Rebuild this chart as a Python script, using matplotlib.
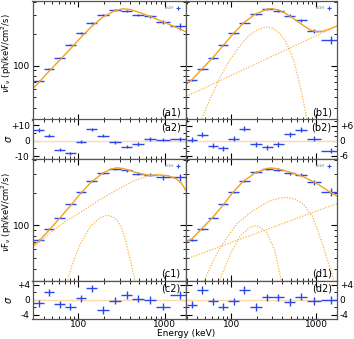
import numpy as np
import matplotlib.pyplot as plt
from matplotlib.ticker import FixedLocator, FixedFormatter, MultipleLocator, NullFormatter

plt.rcParams['font.family'] = 'DejaVu Sans'
plt.rcParams['axes.unicode_minus'] = False

BLUE = '#2848ee'
ORANGE = '#f6a21c'

# energy bins (keV)
bin_edges = [30, 40, 53, 70, 93, 123, 165, 228, 310, 420, 570, 790, 1150, 1950]
flux_err_frac = [0.015, 0.015, 0.015, 0.015, 0.015, 0.015, 0.02, 0.02, 0.025, 0.03, 0.035, 0.05, 0.08]

# nuFnu data points
flux_a1 = [72, 93, 119, 157, 202, 252, 300, 334, 326, 300, 291, 257, 235]
flux_b1 = [73, 93, 118, 156, 202, 254, 304, 339, 330, 296, 266, 211, 174]
flux_c1 = [73.5, 93, 118, 156, 202, 258, 306, 333, 322, 300, 293, 277, 278]
flux_d1 = [73.5, 93, 118, 156, 202, 258, 309, 330, 327, 304, 293, 250, 205]

# residuals (sigma)
resid_a2 = [6.9, 3.2, -5.8, -8.1, -0.6, 7.4, 3.2, -1.0, -3.9, -2.1, 1.1, 0.5, 1.1]
resid_b2 = [0.3, 2.3, -2.0, -3.1, 0.7, 4.7, -1.5, -2.7, -1.5, 2.5, 4.3, 0.7, -4.1]
resid_c2 = [-0.9, 2.0, -1.2, -1.8, 0.4, 3.1, -2.7, -0.2, 1.3, 0.3, 0.0, -1.8, 1.3]
resid_d2 = [-1.3, 2.7, -0.4, -1.8, -0.4, 2.7, -1.9, 0.7, 0.7, -0.6, 0.9, -0.3, 0.0]

# model curves
tot_a1_e = [29.5, 35, 45, 60, 80, 105, 140, 190, 260, 330, 400, 500, 700, 1000, 1400, 1760]
tot_a1 = [60, 69.5, 87, 111, 142, 181, 230, 284, 327, 343, 337, 318, 287, 254, 226, 208]

tot_b1_e = [29.5, 35, 45, 60, 80, 105, 140, 190, 260, 300, 360, 450, 560, 700, 850, 1000, 1200, 1450, 1760]
tot_b1 = [66, 74, 92, 117, 153, 198, 252, 303, 338, 344, 334, 306, 272, 240, 217, 208, 210, 221, 236]
pl_b1_e = [29.5, 1760]
pl_b1 = [51, 236]
cpl_b1_e = [44, 55, 75, 95, 117, 150, 183, 220, 262, 310, 374, 430, 490, 550, 611, 670, 730, 790]
cpl_b1 = [30, 46, 79, 110, 141, 180, 206, 224, 231, 225, 201, 172, 140, 108, 79, 57, 41, 30]

tot_c1_e = [29.5, 35, 45, 60, 80, 105, 140, 190, 240, 280, 330, 400, 500, 650, 850, 1100, 1350, 1550, 1760]
tot_c1 = [65, 71.5, 89, 115, 150, 195, 250, 302, 332, 340, 335, 320, 303, 290, 292, 287, 270, 247, 210]
broad_c1_e = [29.5, 40, 50, 74, 115, 180, 281, 439, 650, 850, 1100, 1350, 1550, 1760]
broad_c1 = [62, 76, 89, 111, 138, 174, 213, 258, 287, 292, 287, 270, 247, 210]
narrow_c1_e = [60, 74, 84.5, 105, 138, 180, 215, 250, 281, 320, 352, 390, 420, 457, 500]
narrow_c1 = [15, 30, 43, 67, 98, 118, 124, 120, 111, 93, 72, 52, 40, 29, 18]

tot_d1_e = [29.5, 35, 45, 60, 80, 103, 138, 192, 262, 300, 357, 490, 700, 1000, 1430, 1760]
tot_d1 = [70, 76, 93, 117, 153, 198, 254, 305, 335, 339, 332, 310, 282, 246, 205, 186]
pl_d1_e = [29.5, 1760]
pl_d1 = [48.8, 159]
broad_d1_e = [48, 60, 75, 117, 183, 286, 380, 448, 560, 700, 912, 1190, 1490, 1630]
broad_d1 = [30.6, 45, 63, 104, 138, 169, 179, 181, 175, 159, 120, 67, 38, 30]
narrow_d1_e = [60, 75, 98, 128, 168, 200, 262, 327, 374, 402]
narrow_d1 = [18, 32.5, 54.5, 80, 96, 100, 86.6, 58.5, 36, 27]

edges = np.array(bin_edges, dtype=float)
e_lo, e_hi = edges[:-1], edges[1:]
e_mid = np.sqrt(e_lo * e_hi)
xerr = [e_mid - e_lo, e_hi - e_mid]

W, H = 354, 339
fig = plt.figure(figsize=(W / 100, H / 100), dpi=100)


def add_ax(x0, x1, y0, y1):
    return fig.add_axes([x0 / W, (H - y1) / H, (x1 - x0) / W, (y1 - y0) / H])


cols = [(32.5, 186), (186, 337)]
rows = [(0.5, 119.5), (119.5, 159), (159, 280.5), (280.5, 318.5)]
LABEL_X = (13.5 - 32.5) / (186 - 32.5)


def style(ax):
    ax.set_xscale('log')
    ax.set_xlim(29.5, 1760)
    ax.tick_params(which='both', direction='in', top=True, right=True, labelsize=6.5, pad=2)
    ax.tick_params(which='major', length=4, width=0.8)
    ax.tick_params(which='minor', length=2, width=0.6)
    for s in ax.spines.values():
        s.set_color('#555555')
        s.set_linewidth(0.9)


def spec_panel(ax, flux, tot_e, tot_v, comps, name, left):
    style(ax)
    ax.set_yscale('log')
    ax.set_ylim(31, 410)
    flux = np.array(flux)
    ax.errorbar(e_mid, flux, xerr=xerr, yerr=flux * np.array(flux_err_frac),
                fmt='none', ecolor=BLUE, elinewidth=1.0)
    for ce, cv in comps:
        ax.plot(ce, cv, color=ORANGE, lw=0.9, ls=(0, (1, 1.2)), alpha=0.8)
    ax.plot(tot_e, tot_v, color=ORANGE, lw=1.0)
    ax.yaxis.set_major_locator(FixedLocator([100]))
    ax.yaxis.set_minor_formatter(NullFormatter())
    ax.xaxis.set_major_formatter(NullFormatter())
    ax.xaxis.set_minor_formatter(NullFormatter())
    if left:
        ax.yaxis.set_major_formatter(FixedFormatter(['100']))
        ax.set_ylabel(r'$\nu$F$_\nu$ (ph/keV/cm$^2$/s)', fontsize=6)
        ax.yaxis.set_label_coords(LABEL_X, 0.56)
    else:
        ax.tick_params(labelleft=False)
    ax.text(0.965, 0.015, name, transform=ax.transAxes, ha='right', va='bottom', fontsize=7)
    ax.text(0.92, 0.94, 'LIGH', transform=ax.transAxes, ha='right', va='center',
            fontsize=2.8, color='#777777')
    ax.plot([0.95], [0.94], transform=ax.transAxes, marker='+', ms=2.5, mew=0.8, color=BLUE)


def resid_panel(ax, resid, ylim, ticks, minor, name, left, bottom):
    style(ax)
    ax.set_ylim(*ylim)
    ax.axhline(0, color='#ffd9a8', lw=1.0)
    ax.errorbar(e_mid, resid, xerr=xerr, yerr=np.ones(len(resid)),
                fmt='none', ecolor=BLUE, elinewidth=1.0)
    ax.yaxis.set_major_locator(FixedLocator(ticks))
    ax.yaxis.set_major_formatter(FixedFormatter(['+%d' % ticks[0], '0', '-%d' % ticks[0]]))
    ax.yaxis.set_minor_locator(MultipleLocator(minor))
    ax.xaxis.set_minor_formatter(NullFormatter())
    if bottom:
        ax.xaxis.set_major_locator(FixedLocator([100, 1000]))
        ax.xaxis.set_major_formatter(FixedFormatter(['100', '1000']))
        ax.tick_params(axis='x', pad=1)
    else:
        ax.xaxis.set_major_formatter(NullFormatter())
    if left:
        ax.set_ylabel(r'$\sigma$', fontsize=7)
        ax.yaxis.set_label_coords(LABEL_X, 0.5)
    else:
        ax.tick_params(labelleft=False, labelright=True)
    ax.text(0.965, 0.92, name, transform=ax.transAxes, ha='right', va='top', fontsize=7)


ax = add_ax(*cols[0], *rows[0])
spec_panel(ax, flux_a1, tot_a1_e, tot_a1, [], '(a1)', True)
ax = add_ax(*cols[1], *rows[0])
spec_panel(ax, flux_b1, tot_b1_e, tot_b1,
           [(pl_b1_e, pl_b1), (cpl_b1_e, cpl_b1)], '(b1)', False)
ax = add_ax(*cols[0], *rows[1])
resid_panel(ax, resid_a2, (-11.8, 13.7), [10, 0, -10], 5, '(a2)', True, False)
ax = add_ax(*cols[1], *rows[1])
resid_panel(ax, resid_b2, (-7.3, 8.5), [6, 0, -6], 2, '(b2)', False, False)

ax = add_ax(*cols[0], *rows[2])
spec_panel(ax, flux_c1, tot_c1_e, tot_c1,
           [(broad_c1_e, broad_c1), (narrow_c1_e, narrow_c1)], '(c1)', True)
ax = add_ax(*cols[1], *rows[2])
spec_panel(ax, flux_d1, tot_d1_e, tot_d1,
           [(pl_d1_e, pl_d1), (broad_d1_e, broad_d1), (narrow_d1_e, narrow_d1)], '(d1)', False)
ax = add_ax(*cols[0], *rows[3])
resid_panel(ax, resid_c2, (-5.0, 5.2), [4, 0, -4], 2, '(c2)', True, True)
ax = add_ax(*cols[1], *rows[3])
resid_panel(ax, resid_d2, (-5.0, 5.2), [4, 0, -4], 2, '(d2)', False, True)

fig.text(186 / W, 1 - 334 / H, 'Energy (keV)', ha='center', va='center', fontsize=6.5)

fig.savefig('out.png', dpi=100)
